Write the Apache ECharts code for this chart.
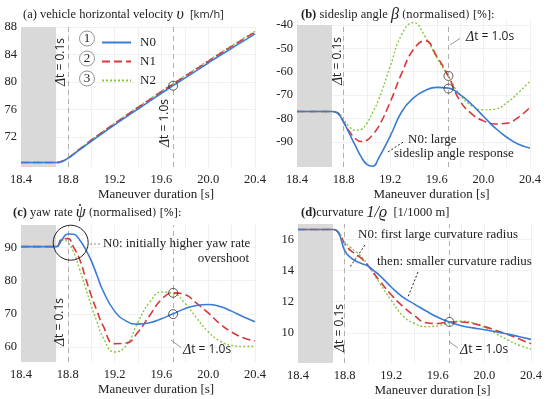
<!DOCTYPE html>
<html>
<head>
<meta charset="utf-8">
<script src="https://cdn.jsdelivr.net/npm/echarts@6/dist/echarts.min.js"></script>
<style>html,body{margin:0;padding:0;background:#fff}#c{width:550px;height:399px}</style>
</head>
<body>
<div id="c"></div>
<script>
// ---------- data ----------
const times = [18.4, 18.7, 18.75, 18.8, 18.85, 18.9, 18.95, 19.0, 19.05, 19.1, 19.2, 19.3, 19.4, 19.5, 19.6, 19.7, 19.8, 19.9, 20.0, 20.1, 20.2, 20.3, 20.4];
const seriesNames = ['N0', 'N1', 'N2'];

// (a) vehicle horizontal velocity [km/h]
const velN0 = [68.25, 68.25, 68.42, 68.85, 69.45, 70.1, 70.72, 71.35, 71.95, 72.55, 73.75, 74.9, 76.05, 77.2, 78.35, 79.45, 80.55, 81.65, 82.75, 83.85, 84.9, 85.95, 87.0];
const velN1 = [68.25, 68.25, 68.44, 68.9, 69.52, 70.2, 70.84, 71.5, 72.11, 72.72, 73.93, 75.1, 76.27, 77.42, 78.58, 79.68, 80.8, 81.9, 83.0, 84.1, 85.17, 86.22, 87.27];
const velN2 = [68.25, 68.25, 68.45, 68.92, 69.55, 70.23, 70.87, 71.53, 72.15, 72.77, 73.99, 75.17, 76.34, 77.5, 78.66, 79.76, 80.88, 81.99, 83.1, 84.2, 85.28, 86.33, 87.38];

// (b) sideslip angle (normalised) [%]
const betaN0 = [-77, -77, -77.8, -81.5, -86.5, -91.5, -96.3, -99.6, -100.4, -97, -87.5, -77, -71.2, -68, -66.7, -67, -69.8, -74, -79, -84, -88, -91, -92.6];
const betaN1 = [-77, -77, -77.6, -81.5, -85.5, -88.5, -89.8, -89.3, -86.8, -83.5, -73, -60.5, -50.5, -46.8, -53.5, -62, -72.5, -78, -81, -82.3, -82, -79.5, -75.2];
const betaN2 = [-77, -77, -77.5, -80.5, -83.5, -85, -84.6, -82, -77.4, -72, -57.8, -44, -39, -45, -54, -62, -70, -74.5, -76.3, -76, -73.3, -69, -64];

// (c) yaw rate (normalised) [%]
const yawN0 = [90.2, 90.2, 92.3, 94.0, 93.9, 92.3, 89.5, 86.0, 81.5, 77.0, 70.8, 67.8, 66.9, 67.3, 68.5, 70.0, 71.5, 72.5, 72.8, 72.2, 70.8, 69.1, 67.6];
const yawN1 = [90.2, 90.2, 92.5, 92.6, 90.0, 86.5, 81.0, 75.5, 70.8, 66.5, 61.0, 61.2, 64.5, 69.5, 74.3, 76.3, 75.8, 73.2, 70.3, 67.0, 64.5, 62.8, 61.8];
const yawN2 = [90.2, 90.2, 92.2, 91.5, 88.5, 83.5, 78.0, 72.5, 67.5, 63.0, 58.5, 60.5, 67.5, 73.5, 76.5, 76.2, 73.2, 68.8, 64.6, 61.8, 60.5, 60.2, 60.3];

// (d) curvature [1/1000 m]
const curvN0 = [16.65, 16.65, 16.4, 15.3, 14.85, 14.6, 14.45, 14.3, 14.0, 13.7, 12.95, 12.3, 11.85, 11.4, 11.0, 10.7, 10.45, 10.32, 10.2, 10.07, 9.92, 9.75, 9.58];
const curvN1 = [16.65, 16.65, 16.42, 15.75, 15.3, 15.05, 14.75, 14.35, 13.85, 13.35, 12.45, 11.7, 11.1, 10.65, 10.6, 10.7, 10.7, 10.6, 10.4, 10.15, 9.9, 9.6, 9.3];
const curvN2 = [16.65, 16.65, 16.45, 15.85, 15.5, 15.2, 14.85, 14.35, 13.8, 13.2, 12.1, 11.1, 10.6, 10.4, 10.45, 10.65, 10.75, 10.65, 10.35, 9.95, 9.55, 9.2, 8.95];

// marked points at t = 1.0 s
const markVel = [[19.7, 79.45]];
const markBeta = [[19.7, -61.8], [19.7, -67.2]];
const markYaw = [[19.7, 76.3], [19.7, 69.9]];
const markCurv = [[19.7, 10.7]];

// time events
const bandStart = 18.4, bandEnd = 18.7;
const eventLines = [18.8, 19.7];

// axis ranges / ticks
const xRange = [18.4, 20.4];
const yRangeA = [67.6, 88], yTicksA = [72, 76, 80, 84, 88];
const yRangeB = [-100.7, -37.9], yTicksB = [-90, -80, -70, -60, -50, -40];
const yRangeC = [55.5, 96.7], yTicksC = [60, 70, 80, 90];
const yRangeD = [8.06, 17], yTicksD = [10, 12, 14, 16];

// ---------- chart ----------
const SERIF = 'Liberation Serif';
const SANS = 'Open Sans';
const colors = ['#3a7bd5', '#d8383a', '#8cc63f'];
const lineTypes = ['solid', [8, 4], [2, 2]];
const lineWidths = [1.6, 1.6, 1.4];

const grids = [
  {left: 21, top: 27, width: 234, height: 140},
  {left: 297, top: 20, width: 233, height: 147},
  {left: 21, top: 225, width: 234, height: 137},
  {left: 298, top: 224, width: 233, height: 139}
];
const yRanges = [yRangeA, yRangeB, yRangeC, yRangeD];
const yTicks = [yTicksA, yTicksB, yTicksC, yTicksD];
const bandTops = [yRangeA[1], -40, yRangeC[1], yRangeD[1]];
const panelData = [
  [velN0, velN1, velN2],
  [betaN0, betaN1, betaN2],
  [yawN0, yawN1, yawN2],
  [curvN0, curvN1, curvN2]
];
const panelMarks = [markVel, markBeta, markYaw, markCurv];

const xAxes = grids.map((g, i) => ({
  type: 'value', gridIndex: i, min: xRange[0], max: xRange[1], interval: 0.2,
  axisLine: {show: false}, axisTick: {show: false},
  splitLine: {show: true, lineStyle: {color: '#f0f0f0', width: 1}},
  axisLabel: {
    fontFamily: SERIF, fontSize: 12.5, color: '#222', margin: 6,
    formatter: v => (Math.round(v * 10) % 4 === 0 ? v.toFixed(1) : '')
  },
  name: 'Maneuver duration [s]', nameLocation: 'middle', nameGap: 21,
  nameTextStyle: {fontFamily: SERIF, fontSize: 13, color: '#222', padding: [0, 0, 0, 36]}
}));

const yAxes = grids.map((g, i) => ({
  type: 'value', gridIndex: i, min: yRanges[i][0], max: yRanges[i][1],
  axisLine: {show: false},
  axisTick: {show: false, customValues: yTicks[i]},
  splitLine: {show: true, lineStyle: {color: '#f0f0f0', width: 1}},
  axisLabel: {fontFamily: SERIF, fontSize: 12.5, color: '#222', margin: 4, customValues: yTicks[i]}
}));

const series = [];
for (let p = 0; p < 4; p++) {
  for (let k = 2; k >= 0; k--) {
    const s = {
      type: 'line', name: seriesNames[k], xAxisIndex: p, yAxisIndex: p,
      data: times.map((t, j) => [t, panelData[p][k][j]]),
      showSymbol: false, symbol: 'none', smooth: true,
      lineStyle: {color: colors[k], width: lineWidths[k], type: lineTypes[k]},
      itemStyle: {color: colors[k]},
      z: 3 + (2 - k), animation: false, silent: true
    };
    if (k === 2) {
      s.markArea = {
        silent: true, itemStyle: {color: '#d9d9d9'},
        data: [[{coord: [bandStart, yRanges[p][0]]}, {coord: [bandEnd, bandTops[p]]}]]
      };
      s.markLine = {
        silent: true, symbol: ['none', 'none'], label: {show: false},
        lineStyle: {color: '#b0b0b0', type: [5, 4], width: 1},
        data: eventLines.map(x => [{coord: [x, yRanges[p][0]]}, {coord: [x, bandTops[p]]}])
      };
    }
    series.push(s);
  }
  series.push({
    type: 'scatter', xAxisIndex: p, yAxisIndex: p, data: panelMarks[p],
    symbol: 'circle', symbolSize: 9, z: 10, silent: true,
    itemStyle: {color: 'rgba(255,255,255,0)', borderColor: '#222', borderWidth: 0.9}
  });
}

function txt(x, y, text, opts) {
  return Object.assign({type: 'text', x: x, y: y, z: 100, silent: true,
    style: Object.assign({text: text, font: '13px "' + SERIF + '"', fill: '#222',
      align: 'left', verticalAlign: 'middle'}, (opts && opts.style) || {})},
    opts && opts.rotation !== undefined ? {rotation: opts.rotation} : {});
}
const dtRich = {
  d: {fontFamily: SERIF, fontStyle: 'italic', fontSize: 14, fill: '#222'},
  s: {fontFamily: SANS, fontSize: 12, fill: '#222'}
};
function dt(x, y, val, rot) {
  const o = {style: {text: '{d|Δ}{s|t = ' + val + 's}', rich: dtRich, align: rot ? 'center' : 'left'}};
  if (rot) o.rotation = Math.PI / 2;
  return txt(x, y, '', o);
}
function ln(x1, y1, x2, y2, color, dash) {
  return {type: 'line', z: 100, silent: true, shape: {x1, y1, x2, y2},
    style: {stroke: color, lineWidth: 1, lineDash: dash || null}};
}
const titleRich = {
  t: {fontFamily: SERIF, fontSize: 12.5, fill: '#222'},
  n: {fontFamily: 'DejaVu Serif', fontSize: 10.5, fill: '#222'},
  b: {fontFamily: SERIF, fontSize: 12.5, fontWeight: 'bold', fill: '#222'},
  g: {fontFamily: SERIF, fontSize: 16, fontStyle: 'italic', fill: '#222'},
  u: {fontFamily: SANS, fontSize: 11, fill: '#222'}
};
function title(x, y, text) {
  return txt(x, y, '', {style: {text: text, rich: titleRich}});
}

const graphic = [
  title(23, 15, '{t|(a) vehicle horizontal velocity }{g|υ}{t|  }{u|[km/h]}'),
  title(301, 15, '{b|(b)}{t| sideslip angle }{g|β}{t| }{n|(normalised) [%]:}'),
  title(13, 213, '{b|(c)}{t| yaw rate }{g|ψ}{t| }{n|(normalised) [%]:}'),
  {type: 'circle', z: 101, silent: true, shape: {cx: 80, cy: 205, r: 1}, style: {fill: '#222'}},
  title(301, 213, '{b|(d)}{t|curvature }{g|1/ϱ}{t|  [1/1000 m]}'),
  // legend circled numbers
  {type: 'circle', z: 100, silent: true, shape: {cx: 87, cy: 38.5, r: 7.5}, style: {fill: '#fff', stroke: '#777', lineWidth: 0.8}},
  {type: 'circle', z: 100, silent: true, shape: {cx: 87, cy: 58.5, r: 7.5}, style: {fill: '#fff', stroke: '#777', lineWidth: 0.8}},
  {type: 'circle', z: 100, silent: true, shape: {cx: 87, cy: 78.5, r: 7.5}, style: {fill: '#fff', stroke: '#777', lineWidth: 0.8}},
  txt(87, 39, '1', {style: {align: 'center'}}),
  txt(87, 59, '2', {style: {align: 'center'}}),
  txt(87, 79, '3', {style: {align: 'center'}}),
  // Δt labels
  dt(61, 62, '0.1', true),
  dt(165, 123, '1.0', true),
  dt(338, 61, '0.1', true),
  dt(466, 37, '1.0'),
  ln(450, 45, 460, 38.5, '#999'),
  dt(60, 322, '0.1', true),
  dt(183, 350, '1.0'),
  ln(171, 340, 181, 347.5, '#999'),
  dt(340, 328, '0.1', true),
  dt(460, 350, '1.0'),
  ln(449, 341.5, 458, 348, '#999'),
  // (b) annotation
  txt(408, 140, 'N0: large'),
  txt(394, 154, 'sideslip angle response'),
  ln(388, 152, 404, 141.5, '#222', [2, 2]),
  // (c) annotation
  {type: 'circle', z: 100, silent: true, shape: {cx: 70.7, cy: 242.7, r: 17.5}, style: {fill: 'none', stroke: '#222', lineWidth: 1}},
  ln(90, 244, 100, 244, '#888', [2, 2]),
  txt(103, 244, 'N0: initially higher yaw rate'),
  txt(249, 258.5, 'overshoot', {style: {align: 'right'}}),
  // (d) annotations
  txt(358, 235, 'N0: first large curvature radius'),
  ln(365, 245, 350, 267, '#222', [2, 2]),
  txt(377, 262, 'then: smaller curvature radius'),
  ln(418, 272, 408, 297, '#222', [2, 2])
];

const chart = echarts.init(document.getElementById('c'), null, {renderer: 'canvas'});
chart.setOption({
  animation: false,
  backgroundColor: '#fff',
  grid: grids,
  xAxis: xAxes,
  yAxis: yAxes,
  legend: {
    data: seriesNames, orient: 'vertical', left: 96, top: 31,
    itemWidth: 29, itemHeight: 10, itemGap: 6, selectedMode: false,
    itemStyle: {opacity: 0},
    textStyle: {fontFamily: SERIF, fontSize: 13, color: '#222', padding: [0, 0, 0, 4]}
  },
  series: series,
  graphic: graphic
});
</script>
</body>
</html>
